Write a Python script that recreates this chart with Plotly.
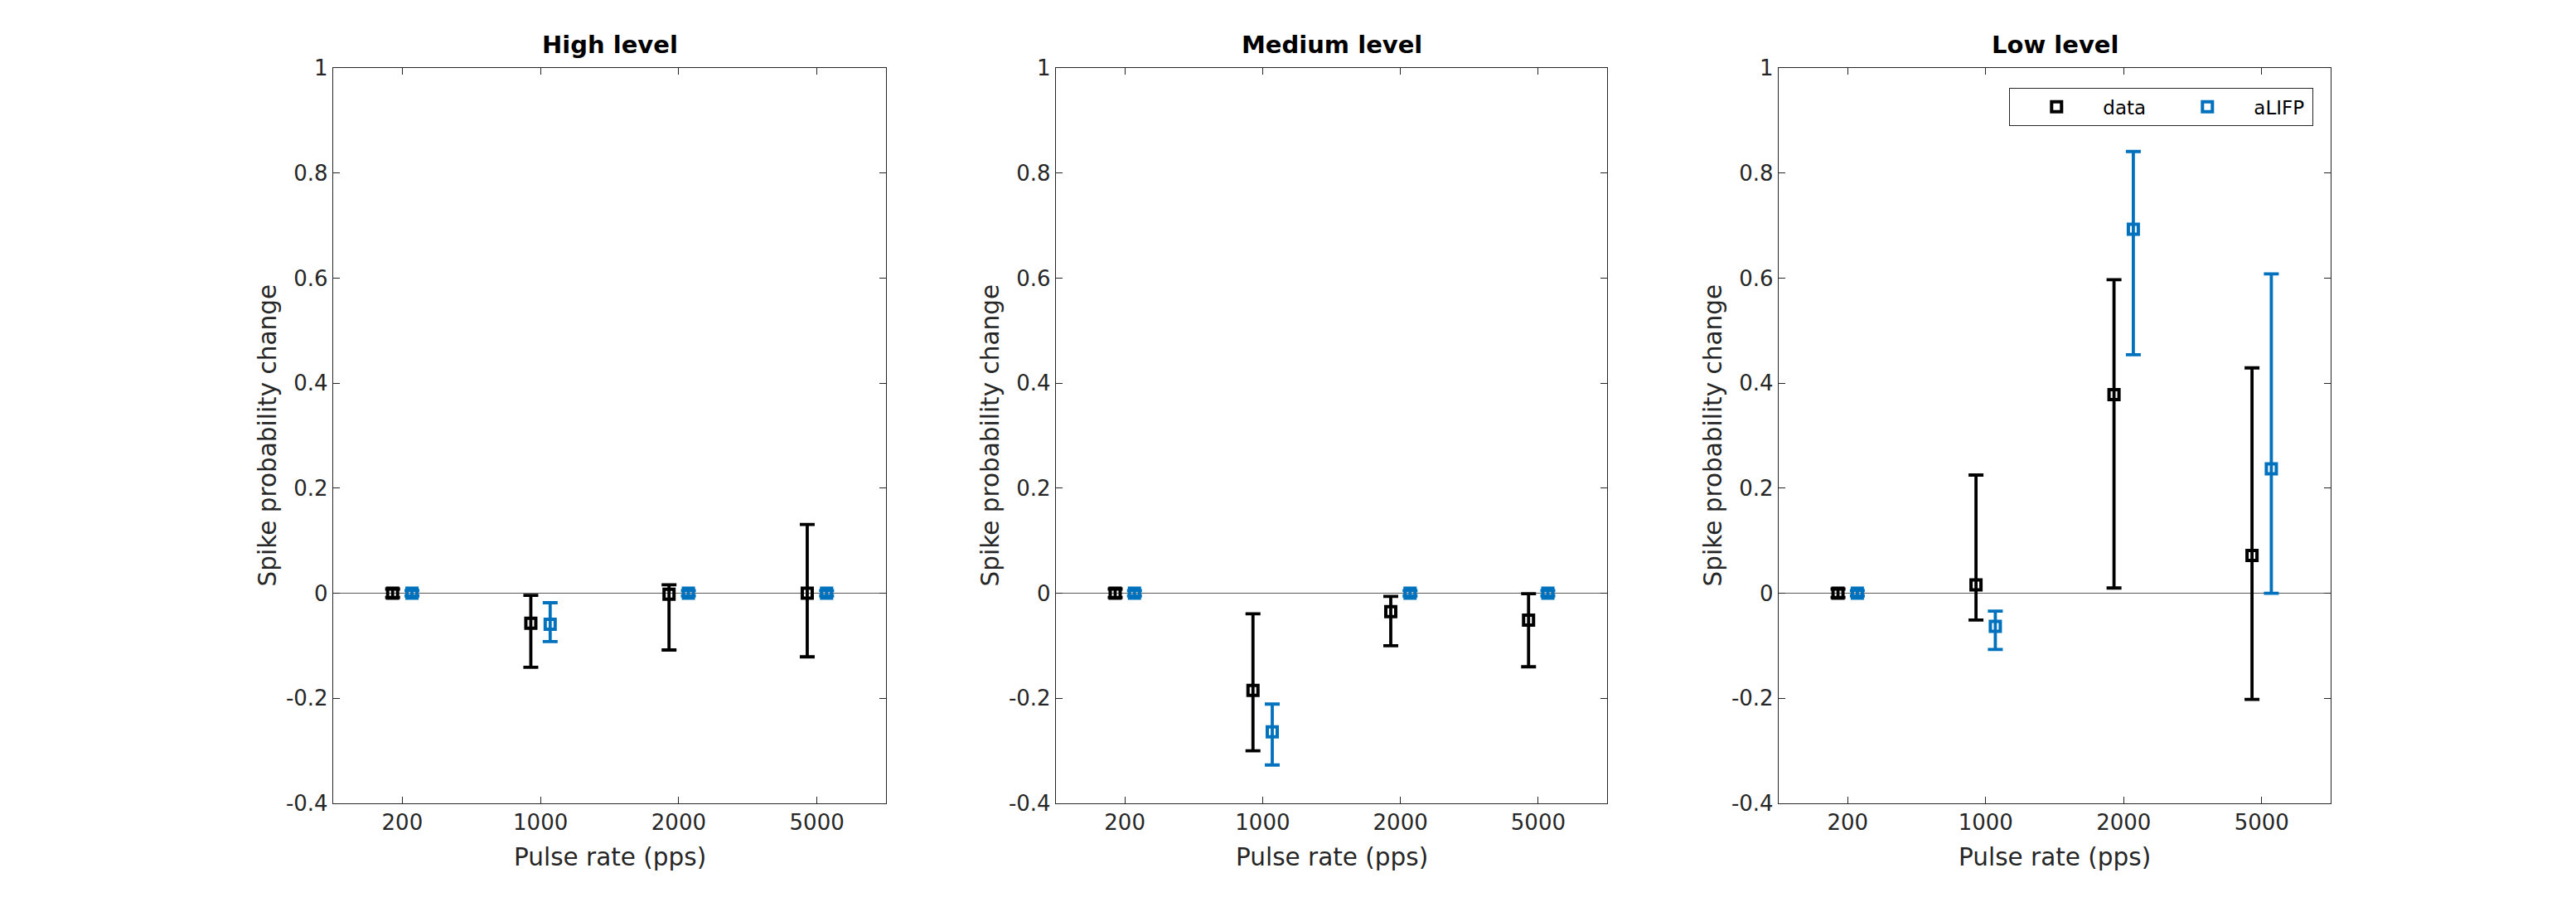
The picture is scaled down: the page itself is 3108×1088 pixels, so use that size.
import plotly.graph_objects as go
from plotly.subplots import make_subplots

# ---------------- data ----------------
categories = ["200", "1000", "2000", "5000"]
panel_titles = ["High level", "Medium level", "Low level"]
x_label = "Pulse rate (pps)"
y_label = "Spike probability change"

# High level
high_data_mean = [0.0, -0.057, -0.002, 0.0]
high_data_upper = [0.008, -0.004, 0.016, 0.131]
high_data_lower = [-0.008, -0.141, -0.108, -0.121]
high_alifp_mean = [0.0, -0.059, 0.0, 0.0]
high_alifp_upper = [0.005, -0.018, 0.005, 0.005]
high_alifp_lower = [-0.005, -0.092, -0.005, -0.005]

# Medium level
med_data_mean = [0.0, -0.185, -0.035, -0.051]
med_data_upper = [0.008, -0.039, -0.006, -0.001]
med_data_lower = [-0.008, -0.300, -0.100, -0.140]
med_alifp_mean = [0.0, -0.264, 0.0, 0.0]
med_alifp_upper = [0.005, -0.211, 0.005, 0.005]
med_alifp_lower = [-0.005, -0.327, -0.005, -0.005]

# Low level
low_data_mean = [0.0, 0.016, 0.378, 0.072]
low_data_upper = [0.008, 0.225, 0.597, 0.429]
low_data_lower = [-0.008, -0.051, 0.010, -0.202]
low_alifp_mean = [0.0, -0.063, 0.693, 0.237]
low_alifp_upper = [0.005, -0.034, 0.841, 0.608]
low_alifp_lower = [-0.005, -0.107, 0.454, 0.0]

y_ticks = [-0.4, -0.2, 0, 0.2, 0.4, 0.6, 0.8, 1]
y_tick_text = ["-0.4", "-0.2", "0", "0.2", "0.4", "0.6", "0.8", "1"]

panels = [
    (high_data_mean, high_data_upper, high_data_lower, high_alifp_mean, high_alifp_upper, high_alifp_lower),
    (med_data_mean, med_data_upper, med_data_lower, med_alifp_mean, med_alifp_upper, med_alifp_lower),
    (low_data_mean, low_data_upper, low_data_lower, low_alifp_mean, low_alifp_upper, low_alifp_lower),
]

# ---------------- style ----------------
W, H = 3108, 1088
FONT = "DejaVu Sans"
AX = "#262626"
BLACK = "#000000"
BLUE = "#0072BD"
OFFSET = 0.07


def px(x):
    return x / W


def py(y):
    return 1 - y / H


x_domains = [(px(402), px(1069)), (px(1274), px(1939)), (px(2146), px(2812))]
y_domain = (py(969), py(82))

fig = make_subplots(rows=1, cols=3)

for i, (dm, du, dl, am, au, al) in enumerate(panels):
    idx = list(range(1, len(categories) + 1))
    for name, mean, up, lo, color, sgn in [
        ("data", dm, du, dl, BLACK, -1),
        ("aLIFP", am, au, al, BLUE, 1),
    ]:
        fig.add_trace(
            go.Scatter(
                x=[k + sgn * OFFSET for k in idx],
                y=mean,
                mode="markers",
                name=name,
                showlegend=(i == 2),
                marker=dict(symbol="square-open", size=12, color=color,
                            line=dict(width=4, color=color)),
                error_y=dict(type="data", symmetric=False,
                             array=[u - m for u, m in zip(up, mean)],
                             arrayminus=[m - l for m, l in zip(mean, lo)],
                             color=color, thickness=3.8, width=9),
            ),
            row=1, col=i + 1,
        )

for i in range(3):
    xa = "xaxis" if i == 0 else f"xaxis{i + 1}"
    ya = "yaxis" if i == 0 else f"yaxis{i + 1}"
    fig.layout[xa].update(
        domain=x_domains[i], range=[0.5, 4.5],
        tickmode="array", tickvals=[1, 2, 3, 4], ticktext=categories,
        ticks="inside", ticklen=8, tickwidth=1.3, tickcolor=AX,
        showline=True, linecolor=AX, linewidth=1.3, mirror="ticks",
        showgrid=False, zeroline=False, automargin=False,
        tickfont=dict(family=FONT, size=26, color=AX),
    )
    fig.layout[ya].update(
        domain=y_domain, range=[-0.4, 1.0],
        tickmode="array", tickvals=y_ticks, ticktext=y_tick_text,
        ticks="inside", ticklen=8, tickwidth=1.3, tickcolor=AX,
        showline=True, linecolor=AX, linewidth=1.3, mirror="ticks",
        showgrid=False, zeroline=True, zerolinecolor="#5a5a5a", zerolinewidth=1.3,
        automargin=False,
        tickfont=dict(family=FONT, size=26, color=AX),
    )
    x0, x1 = x_domains[i]
    cx = (x0 + x1) / 2
    # panel title
    fig.add_annotation(
        text=f"<b>{panel_titles[i]}</b>", x=cx, y=py(54), xref="paper", yref="paper",
        xanchor="center", yanchor="middle", showarrow=False,
        font=dict(family=FONT, size=29, color=BLACK),
    )
    # x axis title
    fig.add_annotation(
        text=x_label, x=cx, y=py(1034), xref="paper", yref="paper",
        xanchor="center", yanchor="middle", showarrow=False,
        font=dict(family=FONT, size=29.5, color=AX),
    )
    # y axis title
    fig.add_annotation(
        text=y_label, x=x0 - px(79), y=(y_domain[0] + y_domain[1]) / 2,
        xref="paper", yref="paper", textangle=-90,
        xanchor="center", yanchor="middle", showarrow=False,
        font=dict(family=FONT, size=29.5, color=AX),
    )

fig.update_layout(
    width=W, height=H,
    margin=dict(l=0, r=0, t=0, b=0),
    paper_bgcolor="white", plot_bgcolor="white",
    font=dict(family=FONT, color=AX),
    legend=dict(
        orientation="h", x=px(2791), xanchor="right", y=py(106), yanchor="top",
        bordercolor=AX, borderwidth=1.3, bgcolor="white",
        font=dict(family=FONT, size=23, color=BLACK),
        itemwidth=102, entrywidth=65,
    ),
)

fig.write_html("out.html", config={"displayModeBar": False},
               post_script="document.body.style.margin='0px';")
